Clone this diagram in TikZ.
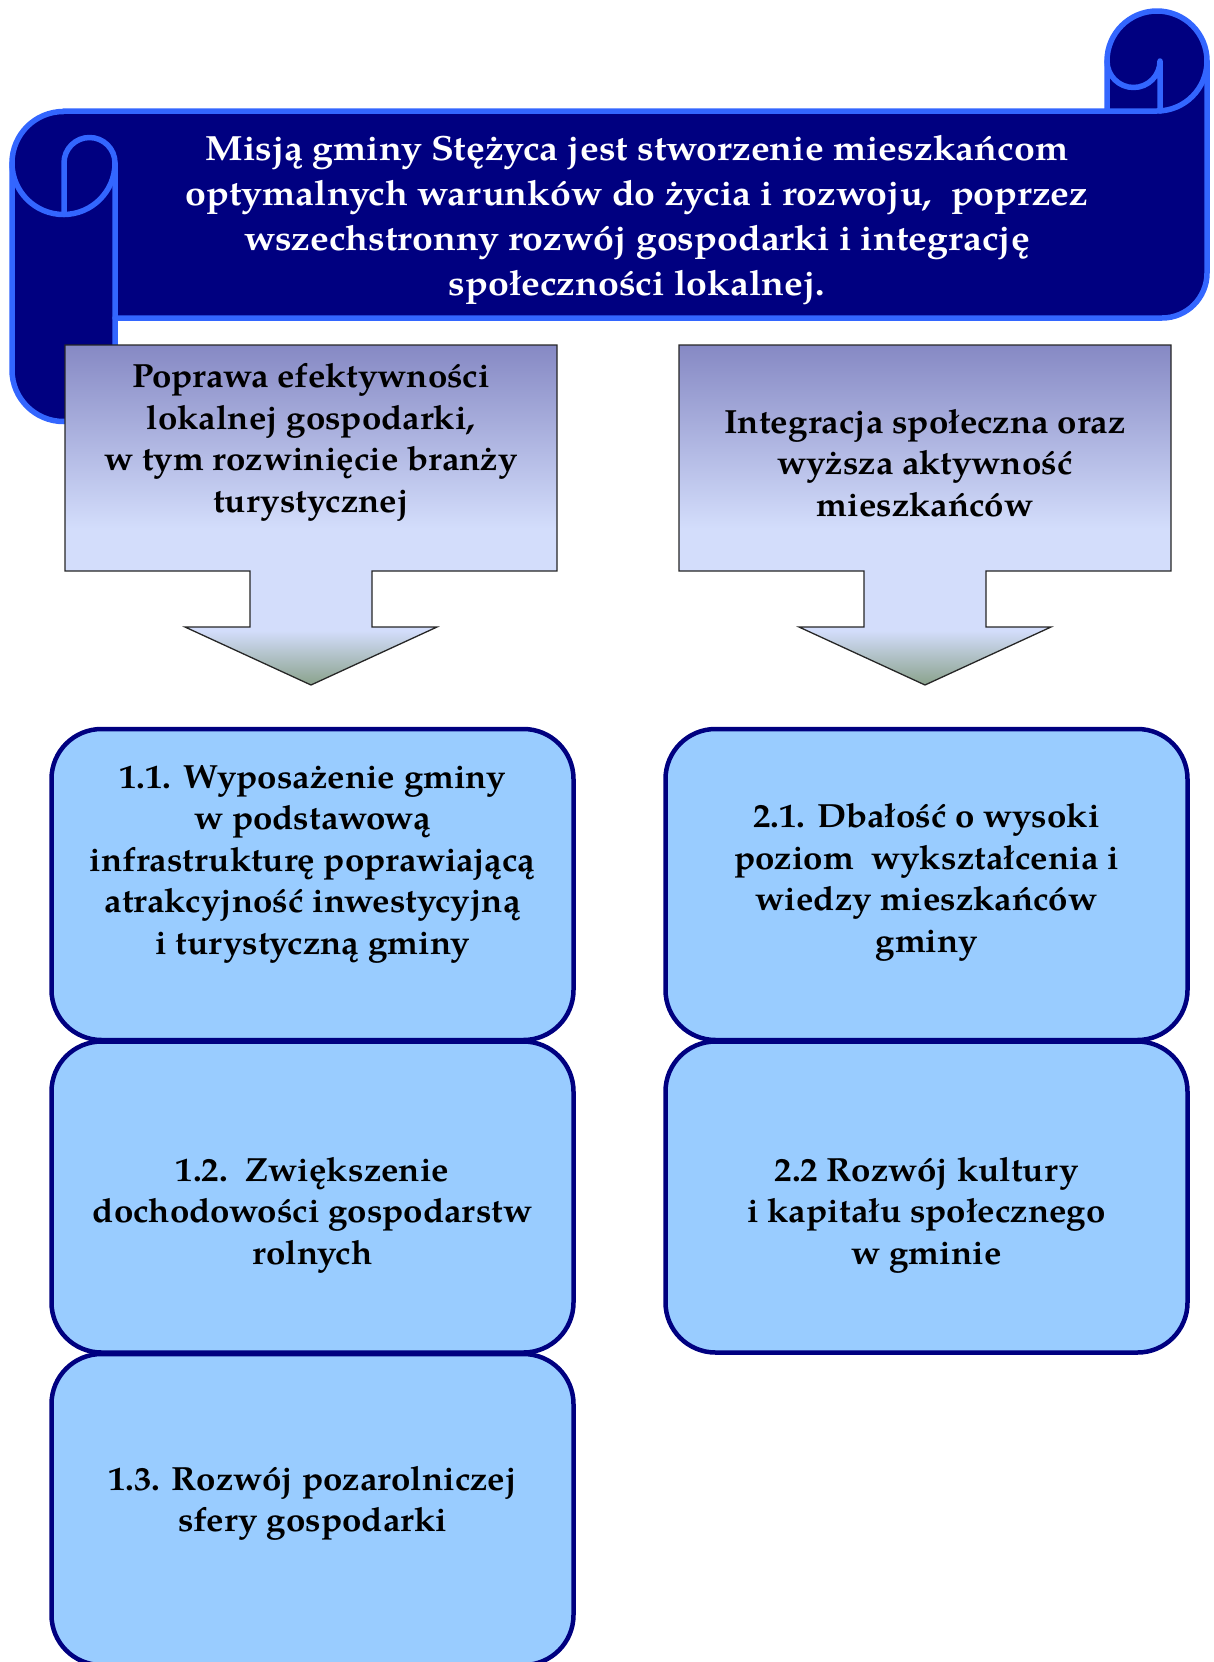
\documentclass[tikz,border=0pt]{standalone}
\usepackage{fontspec}
\setmainfont{TeX Gyre Pagella}[FakeStretch=1.04]
\newfontfamily\bannerfont{TeX Gyre Pagella}[FakeStretch=1.07]
\definecolor{navy}{RGB}{0,0,128}
\definecolor{scrollline}{RGB}{51,102,255}
\definecolor{boxfill}{RGB}{153,204,255}
\definecolor{ctop}{RGB}{134,137,196}
\definecolor{clight}{RGB}{211,221,251}
\definecolor{cbot}{RGB}{138,162,140}
\pgfdeclareverticalshading{calloutshade}{100bp}{color(0bp)=(cbot); color(25bp)=(cbot); color(33bp)=(clight); color(48bp)=(clight); color(75bp)=(ctop); color(100bp)=(ctop)}
\begin{document}
\begin{tikzpicture}[x=1pt,y=-1pt,
  scroll/.style={fill=navy, draw=scrollline, line width=5.5pt, line join=round},
  scrollfront/.style={draw=scrollline, line width=5.5pt, line join=round, line cap=round},
  goalbox/.style={draw=navy, fill=boxfill, line width=4.5pt, rounded corners=50pt, minimum width=522pt, minimum height=311pt, inner sep=0pt},
  callout/.style={draw=black!85, line width=1.3pt, shading=calloutshade},
  btext/.style={font=\fontsize{33.5}{41.5}\selectfont\bfseries, align=center, inner sep=0pt, text=black},
  mtext/.style={font=\bannerfont\fontsize{35}{45}\selectfont\bfseries, align=center, inner sep=0pt, text=white}]
\useasboundingbox (0,0) rectangle (1213,1662);

% scroll banner
\path[scroll] (63.5,111) -- (1107,111) -- (1107,61) arc[start angle=180,end angle=360,radius=50]
  -- (1207,273) arc[start angle=0,end angle=90,radius=45] -- (115,318) -- (115,370)
  arc[start angle=0,end angle=180,radius=51.5] -- (12,163) arc[start angle=180,end angle=270,radius=51.5] -- cycle;
\draw[scrollfront] (12,163) arc[start angle=180,end angle=0,radius=51.5];
\draw[scrollfront] (64,214.5) -- (64,163) arc[start angle=180,end angle=360,radius=25.5] -- (115,318);
\draw[scrollfront] (1107,61) arc[start angle=180,end angle=0,radius=26.5] -- (1160,111);
\draw[scrollfront] (1107,111) -- (1157,111) arc[start angle=90,end angle=0,radius=50];
\node[mtext] (mission) at (637,220) {Misją gminy Stężyca jest stworzenie mieszkańcom\\optymalnych warunków do życia i rozwoju,\ \ poprzez\\wszechstronny rozwój gospodarki i integrację\\społeczności lokalnej.};

% callout arrows
\shadedraw[callout] (65,345) -- (557,345) -- (557,571) -- (372,571) -- (372,627) -- (437,627) -- (311,685) -- (185,627) -- (250,627) -- (250,571) -- (65,571) -- cycle;
\shadedraw[callout] (679,345) -- (1171,345) -- (1171,571) -- (986,571) -- (986,627) -- (1051,627) -- (925,685) -- (799,627) -- (864,627) -- (864,571) -- (679,571) -- cycle;
\node[btext] (goal1) at (311,442.5) {Poprawa efektywności\\lokalnej gospodarki,\\w tym rozwinięcie branży\\turystycznej};
\node[btext] (goal2) at (925,463) {Integracja społeczna oraz\\wyższa aktywność\\mieszkańców};

% objective boxes
\node[goalbox] (b11) at (312.5,884.5) {};
\node[goalbox] (b12) at (312.5,1197) {};
\node[goalbox] (b13) at (312.5,1509.5) {};
\node[goalbox] (b21) at (926.5,884.5) {};
\node[goalbox] (b22) at (926.5,1197) {};
\node[btext] (t11) at (312.5,864) {1.1. Wyposażenie gminy\\w podstawową\\infrastrukturę poprawiającą\\atrakcyjność inwestycyjną\\i turystyczną gminy};
\node[btext] (t12) at (312.5,1215) {1.2.\ \ Zwiększenie\\dochodowości gospodarstw\\rolnych};
\node[btext] (t13) at (312.5,1503.5) {1.3. Rozwój pozarolniczej\\sfery gospodarki};
\node[btext] (t21) at (926.5,882.5) {2.1. Dbałość o wysoki\\poziom\ \ wykształcenia i\\wiedzy mieszkańców\\gminy};
\node[btext] (t22) at (926.5,1215) {2.2 Rozwój kultury\\i kapitału społecznego\\w gminie};
\end{tikzpicture}
\end{document}
